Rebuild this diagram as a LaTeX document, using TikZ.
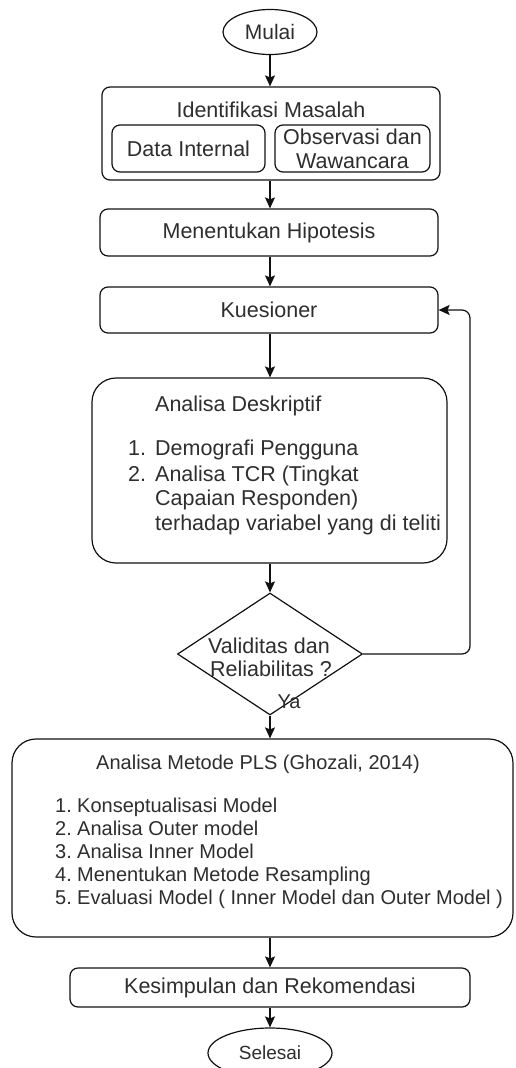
\documentclass[tikz,border=0pt]{standalone}
\usepackage{fontspec}
\setmainfont{Liberation Sans}
\usetikzlibrary{shapes.geometric,arrows.meta}
\definecolor{linec}{HTML}{111111}
\definecolor{textc}{HTML}{2E2E2E}
\begin{document}
\begin{tikzpicture}[x=1pt,y=-1pt,
  box/.style={draw=linec, line width=1.2pt, rounded corners=8pt, inner sep=0pt, fill=white},
  bigbox/.style={box, rounded corners=24pt},
  oval/.style={draw=linec, line width=1.2pt, ellipse, inner sep=0pt, text=textc, font=\fontsize{21}{24}\selectfont},
  arr/.style={draw=linec, line width=1.2pt, -{Stealth[length=11pt,width=10pt,inset=2pt]}},
  txt/.style={text=textc, font=\fontsize{21.5}{24}\selectfont, inner sep=0pt},
  stxt/.style={text=textc, font=\fontsize{20}{23}\selectfont, inner sep=0pt}]
\useasboundingbox (0,0) rectangle (515,1068);
\clip (0,0) rectangle (515,1068);
\fill[white] (0,0) rectangle (515,1068);

% Start
\node[oval, minimum width=94pt, minimum height=45pt] (mulai) at (270,32) {Mulai};

% Identifikasi Masalah
\node[box, minimum width=338pt, minimum height=93pt] (idm) at (271,133.5) {};
\node[txt] (idmt) at (271,110) {Identifikasi Masalah};
\node[box, minimum width=153pt, minimum height=47pt, txt] (di) at (188.5,148.5) {Data Internal};
\node[box, minimum width=155pt, minimum height=47pt, txt, align=center] (obs) at (352.5,148.5) {Observasi dan\\Wawancara};

% Hipotesis
\node[box, minimum width=338pt, minimum height=47pt, txt] (hip) at (269,232.5) {Menentukan Hipotesis};

% Kuesioner
\node[box, minimum width=338pt, minimum height=46pt, txt] (kue) at (269,310) {Kuesioner};

% Analisa Deskriptif
\node[bigbox, minimum width=355pt, minimum height=185pt] (ad) at (269.5,470.5) {};
\node[txt, anchor=base west] (ad0) at (155,411) {Analisa Deskriptif};
\node[txt, anchor=base west] (ad1) at (128,455) {\makebox[27pt][l]{1.}Demografi Pengguna};
\node[txt, anchor=base west] (ad2) at (128,481) {\makebox[27pt][l]{2.}Analisa TCR (Tingkat};
\node[txt, anchor=base west] (ad3) at (155,505) {Capaian Responden)};
\node[txt, anchor=base west] (ad4) at (155,530) {terhadap variabel yang di teliti};

% Decision
\node[draw=linec, line width=1.2pt, diamond, inner sep=0pt, minimum width=185pt, minimum height=122pt] (dec) at (270,654) {};
\node[txt, anchor=base] (dec1) at (269,653) {Validitas dan};
\node[txt, anchor=base] (dec2) at (271,676) {Reliabilitas ?};
\node[stxt] (ya) at (289,702) {Ya};

% PLS
\node[bigbox, minimum width=501pt, minimum height=198pt] (pls) at (262.5,838) {};
\node[stxt, anchor=base] (pls0) at (258,769) {Analisa Metode PLS (Ghozali, 2014)};
\node[stxt, anchor=base west] (pls1) at (55,812) {\makebox[22pt][l]{1.}Konseptualisasi Model};
\node[stxt, anchor=base west] (pls2) at (55,835) {\makebox[22pt][l]{2.}Analisa Outer model};
\node[stxt, anchor=base west] (pls3) at (55,858) {\makebox[22pt][l]{3.}Analisa Inner Model};
\node[stxt, anchor=base west] (pls4) at (55,881) {\makebox[22pt][l]{4.}Menentukan Metode Resampling};
\node[stxt, anchor=base west] (pls5) at (55,904) {\makebox[22pt][l]{5.}Evaluasi Model ( Inner Model dan Outer Model )};

% Kesimpulan
\node[box, minimum width=400pt, minimum height=39pt, txt] (kes) at (270,987.5) {Kesimpulan dan Rekomendasi};

% End
\node[oval, minimum width=124pt, minimum height=50pt, font=\fontsize{19}{22}\selectfont] (sel) at (270,1053) {Selesai};

% Connectors (vertical, on the axis x = 270)
\draw[arr] (mulai.south) -- (mulai.south |- idm.north);
\draw[arr] (mulai.south |- idm.south) -- (mulai.south |- hip.north);
\draw[arr] (mulai.south |- hip.south) -- (mulai.south |- kue.north);
\draw[arr] (mulai.south |- kue.south) -- (mulai.south |- ad.north);
\draw[arr] (mulai.south |- ad.south) -- (dec.north);
\draw[arr] (dec.south) -- (dec.south |- pls.north);
\draw[arr] (dec.south |- pls.south) -- (dec.south |- kes.north);
\draw[arr] (kes.south) -- (sel.north);
\coordinate (fb) at (470,654);
\draw[arr, rounded corners=8pt] (dec.east) -- (fb) |- (kue.east);
\end{tikzpicture}
\end{document}
